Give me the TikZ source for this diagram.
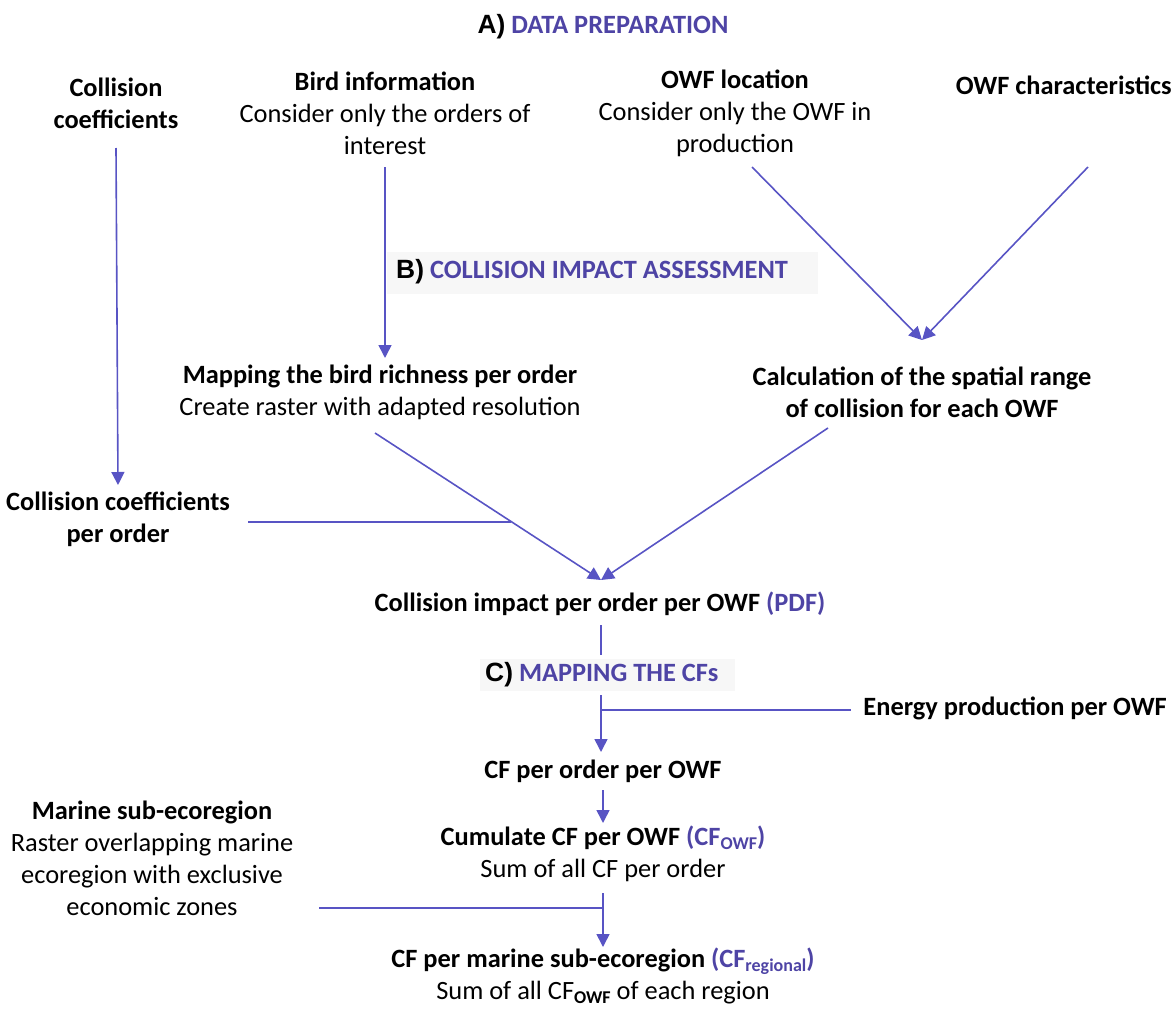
\documentclass[tikz,border=0pt]{standalone}
\usepackage{fontspec}
\setmainfont{Carlito}
\newfontfamily\arialf{Liberation Sans}
\usetikzlibrary{arrows.meta}
\definecolor{purp}{RGB}{78,68,165}
\definecolor{lnc}{RGB}{88,84,196}
\definecolor{boxg}{RGB}{246,246,246}
\newcommand{\subx}[1]{\raisebox{-0.3ex}{\fontsize{18}{18}\selectfont\bfseries #1}}
\tikzset{
  txt/.style={align=center, inner sep=0pt, font=\fontsize{26.4}{32}\selectfont},
  ln/.style={draw=lnc, line width=1.6pt},
  arr/.style={ln, -{Triangle[width=13pt,length=13pt]}},
  sect/.style={fill=boxg, fill opacity=0.85, text opacity=1, inner sep=0pt}
}
\begin{document}
\begin{tikzpicture}[x=1pt,y=-1pt]
\useasboundingbox (0,0) rectangle (1173,1009);
% title
\node[txt] (title) at (603,27) {{\arialf\bfseries A)} \textbf{\color{purp}DATA PREPARATION}};
% top row
\node[txt] (colcoef) at (116,103) {\textbf{Collision}\\\textbf{coefficients}};
\node[txt] (bird) at (385,113) {\textbf{Bird information}\\Consider only the orders of\\interest};
\node[txt] (owfloc) at (735,113) {\textbf{OWF location}\\Consider only the OWF in\\production};
\node[txt, anchor=east] (owfchar) at (1172,85) {\textbf{OWF characteristics}};
% middle
\node[txt] (mapping) at (380,392) {\textbf{Mapping the bird richness per order}\\Create raster with adapted resolution};
\node[txt] (calc) at (922,392) {\textbf{Calculation of the spatial range}\\\textbf{of collision for each OWF}};
\node[txt] (colcoefper) at (118,519) {\textbf{Collision coefficients}\\\textbf{per order}};
\node[txt] (impact) at (600,604) {\textbf{Collision impact per order per OWF {\color{purp}(PDF)}}};
\node[txt, anchor=east] (energy) at (1167,708) {\textbf{Energy production per OWF}};
\node[txt] (cforder) at (603,771) {\textbf{CF per order per OWF}};
\node[txt] (cumul) at (603,854) {\textbf{Cumulate CF per OWF {\color{purp}(CF\subx{OWF})}}\\Sum of all CF per order};
\node[txt] (marine) at (152,858) {\textbf{Marine sub-ecoregion}\\Raster overlapping marine\\ecoregion with exclusive\\economic zones};
\node[txt] (cfreg) at (603,976) {\textbf{CF per marine sub-ecoregion {\color{purp}(CF\subx{regional})}}\\Sum of all CF\subx{OWF} of each region};
% connectors
\draw[arr] (colcoef.south |- 0,148) -- (colcoefper.north |- 0,485);
\draw[arr] (bird.south |- 0,167) -- (bird.south |- 0,358);
\coordinate (owfa) at (752,167);
\coordinate (owfb) at (1088,167);
\coordinate (calctop) at (922,340);
\draw[arr] (owfa) -- (calctop);
\draw[arr] (owfb) -- (calctop);
\coordinate (mapb) at (375,433);
\coordinate (calcb) at (828,428);
\coordinate (imptop) at (601,580);
\draw[arr] (mapb) -- (imptop);
\draw[arr] (calcb) -- (imptop);
\coordinate (ccj) at (511,522);
\draw[ln] (colcoefper.east |- 0,522) ++(18,0) -- (ccj);
% B label over bird line
\node[sect, minimum width=431pt, minimum height=42pt] (blabel) at (602,273) {};
\node[txt, anchor=west] (btext) at (396,272) {{\arialf\bfseries B)} \textbf{\color{purp}COLLISION IMPACT ASSESSMENT}};
% C section
\coordinate (impb) at (601,625);
\coordinate (impc) at (601,655);
\draw[ln] (impb) -- (impc);
\node[sect, minimum width=255pt, minimum height=32pt] (clabel) at (607,675) {};
\node[txt, anchor=west] (ctext) at (485,675) {{\arialf\bfseries C)} \textbf{\color{purp}MAPPING THE CFs}};
\coordinate (cb) at (601,695);
\draw[arr] (cb) -- (cb |- 0,752);
\coordinate (ej) at (601,710);
\draw[ln] (ej) -- ([xshift=-12pt]energy.west |- 0,710);
\draw[arr] (cforder.south |- 0,790) -- (cumul.north |- 0,823);
\draw[arr] (cumul.south |- 0,893) -- (cfreg.north |- 0,947);
\coordinate (mj) at (603,908);
\coordinate (mstart) at (319,908);
\draw[ln] (mstart) -- (mj);
\end{tikzpicture}
\end{document}
